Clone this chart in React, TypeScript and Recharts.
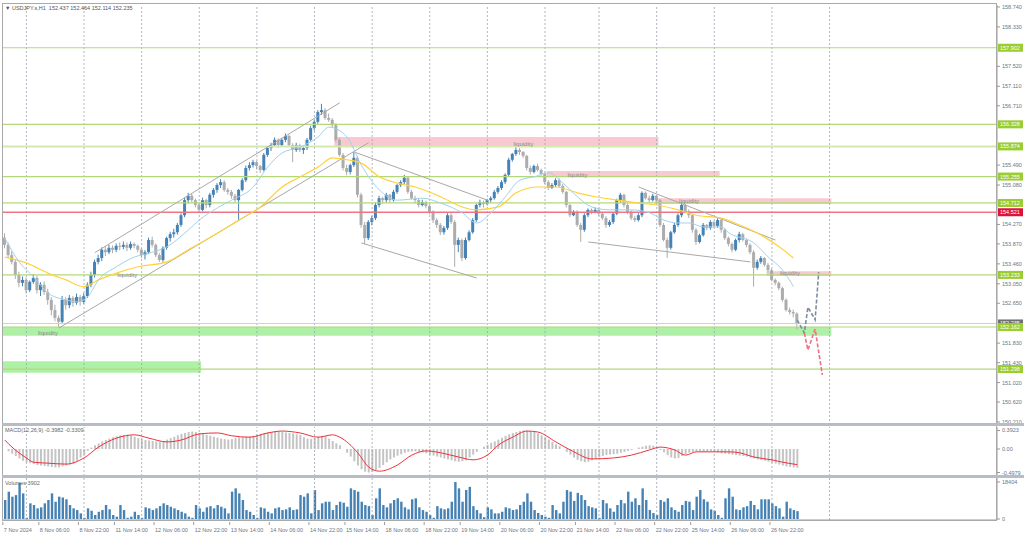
import React from 'react';
import { ComposedChart, Bar, Line, XAxis, YAxis, ReferenceLine, ReferenceArea, ReferenceDot } from 'recharts';

// hourly candles [open, high, low, close]
const candles7to8Nov = [
  [154.0, 154.09, 153.78, 153.85], [153.85, 153.9, 153.58, 153.64], [153.64, 153.72, 153.45, 153.5], [153.5, 153.55, 153.15, 153.23],
  [153.23, 153.3, 152.98, 153.07], [153.07, 153.2, 153.0, 153.13], [153.13, 153.18, 152.85, 152.92], [152.92, 153.12, 152.88, 153.09],
  [153.09, 153.25, 153.05, 153.17], [153.17, 153.22, 152.85, 152.92], [152.92, 153.08, 152.8, 153.03], [153.03, 153.1, 152.82, 152.88],
  [152.88, 152.95, 152.62, 152.72], [152.72, 152.78, 152.4, 152.51], [152.51, 152.62, 152.28, 152.35], [152.35, 152.4, 152.16, 152.27],
  [152.27, 152.8, 152.24, 152.72], [152.72, 152.78, 152.52, 152.61], [152.61, 152.82, 152.55, 152.76], [152.76, 152.8, 152.58, 152.66],
  [152.66, 152.85, 152.62, 152.78], [152.78, 152.82, 152.6, 152.68], [152.68, 152.86, 152.64, 152.8], [152.8, 153.08, 152.76, 153.03],
  [153.03, 153.3, 152.98, 153.23],
];
const candles11to12Nov = [
  [153.23, 153.55, 153.18, 153.5], [153.5, 153.65, 153.45, 153.58], [153.58, 153.8, 153.52, 153.75], [153.75, 153.82, 153.62, 153.7],
  [153.7, 153.85, 153.66, 153.79], [153.79, 153.84, 153.68, 153.75], [153.75, 153.88, 153.7, 153.83], [153.83, 153.9, 153.74, 153.81],
  [153.81, 153.92, 153.76, 153.85], [153.85, 153.9, 153.72, 153.79], [153.79, 153.92, 153.75, 153.87], [153.87, 153.9, 153.78, 153.83],
  [153.83, 153.86, 153.7, 153.75], [153.75, 153.78, 153.58, 153.64], [153.64, 153.74, 153.55, 153.7], [153.7, 154.0, 153.66, 153.95],
  [153.95, 154.02, 153.8, 153.85], [153.85, 153.88, 153.6, 153.64], [153.64, 153.68, 153.5, 153.54], [153.54, 153.82, 153.5, 153.79],
  [153.79, 154.02, 153.75, 153.99], [153.99, 154.12, 153.92, 154.07], [154.07, 154.18, 154.0, 154.11], [154.11, 154.3, 154.06, 154.26],
  [154.26, 154.5, 154.22, 154.46], [154.46, 154.82, 154.42, 154.77], [154.77, 154.92, 154.7, 154.86], [154.86, 154.9, 154.72, 154.77],
  [154.77, 154.8, 154.62, 154.67], [154.67, 154.72, 154.52, 154.57], [154.57, 154.82, 154.54, 154.77],
];
const candles12to14Nov = [
  [154.77, 154.8, 154.6, 154.67], [154.67, 154.92, 154.62, 154.88], [154.88, 155.02, 154.82, 154.98], [154.98, 155.12, 154.92, 155.08],
  [155.08, 155.2, 155.02, 155.14], [155.14, 155.18, 154.94, 154.98], [154.98, 155.02, 154.88, 154.94], [154.94, 154.98, 154.8, 154.86],
  [154.86, 154.9, 154.72, 154.77], [154.77, 155.0, 154.36, 154.98], [154.98, 155.22, 154.95, 155.18], [155.18, 155.48, 155.14, 155.43],
  [155.43, 155.55, 155.38, 155.49], [155.49, 155.6, 155.44, 155.55], [155.55, 155.58, 155.4, 155.47], [155.47, 155.5, 155.33, 155.39],
  [155.39, 155.74, 155.36, 155.7], [155.7, 155.88, 155.66, 155.84], [155.84, 155.95, 155.78, 155.9], [155.9, 156.06, 155.86, 156.01],
  [156.01, 156.04, 155.84, 155.9], [155.9, 156.05, 155.86, 156.01], [156.01, 156.14, 155.96, 156.09], [156.09, 156.12, 155.86, 155.9],
  [155.9, 155.94, 155.55, 155.8], [155.8, 155.95, 155.76, 155.9], [155.9, 155.93, 155.76, 155.8], [155.8, 155.88, 155.72, 155.84],
  [155.84, 156.05, 155.8, 156.01], [156.01, 156.3, 155.98, 156.25], [156.25, 156.42, 156.2, 156.38], [156.38, 156.62, 156.34, 156.58],
  [156.58, 156.75, 156.52, 156.62],
];
const candles15to18Nov = [
  [156.62, 156.66, 156.42, 156.46], [156.46, 156.55, 156.38, 156.42], [156.42, 156.46, 156.26, 156.31], [156.31, 156.35, 155.96, 156.01],
  [156.01, 156.05, 155.66, 155.7], [155.7, 155.74, 155.38, 155.43], [155.43, 155.5, 155.28, 155.35], [155.35, 155.52, 155.3, 155.49],
  [155.49, 155.76, 155.45, 155.64], [155.64, 155.68, 154.82, 154.88], [154.88, 154.92, 154.2, 154.26], [154.26, 154.32, 153.87, 153.99],
  [153.99, 154.36, 153.95, 154.32], [154.32, 154.45, 154.25, 154.4], [154.4, 154.72, 154.36, 154.67], [154.67, 154.86, 154.62, 154.81],
  [154.81, 154.84, 154.7, 154.77], [154.77, 154.92, 154.72, 154.88], [154.88, 154.9, 154.72, 154.77], [154.77, 154.98, 154.74, 154.94],
  [154.94, 155.1, 154.9, 155.08], [155.08, 155.18, 155.04, 155.14], [155.14, 155.29, 155.1, 155.23], [155.23, 155.26, 154.9, 154.94],
  [154.94, 154.98, 154.78, 154.81], [154.81, 154.86, 154.7, 154.77], [154.77, 154.8, 154.62, 154.67], [154.67, 154.78, 154.64, 154.73],
  [154.73, 154.76, 154.6, 154.65], [154.65, 154.68, 154.48, 154.53], [154.53, 154.56, 154.3, 154.36], [154.36, 154.4, 154.2, 154.26],
  [154.26, 154.3, 154.05, 154.11], [154.11, 154.24, 154.06, 154.2], [154.2, 154.5, 154.16, 154.46], [154.46, 154.5, 154.28, 154.32],
];
const candles19to21Nov = [
  [154.32, 154.36, 153.4, 153.85], [153.85, 154.0, 153.7, 153.95], [153.95, 153.98, 153.52, 153.58], [153.58, 154.0, 153.55, 153.95],
  [153.95, 154.15, 153.92, 154.11], [154.11, 154.4, 154.08, 154.36], [154.36, 154.7, 154.32, 154.67], [154.67, 154.78, 154.62, 154.73],
  [154.73, 154.76, 154.62, 154.69], [154.69, 154.8, 154.66, 154.77], [154.77, 154.85, 154.72, 154.81], [154.81, 154.98, 154.78, 154.94],
  [154.94, 155.06, 154.9, 155.02], [155.02, 155.18, 154.98, 155.14], [155.14, 155.32, 155.1, 155.29], [155.29, 155.64, 155.26, 155.6],
  [155.6, 155.74, 155.56, 155.72], [155.72, 155.86, 155.68, 155.8], [155.8, 155.84, 155.7, 155.76], [155.76, 155.78, 155.64, 155.68],
  [155.68, 155.7, 155.38, 155.43], [155.43, 155.48, 155.3, 155.35], [155.35, 155.5, 155.32, 155.47], [155.47, 155.52, 155.36, 155.39],
  [155.39, 155.42, 155.27, 155.31], [155.31, 155.34, 155.1, 155.14], [155.14, 155.18, 154.98, 155.02], [155.02, 155.12, 155.0, 155.08],
  [155.08, 155.22, 155.04, 155.18], [155.18, 155.22, 155.02, 155.06], [155.06, 155.1, 154.9, 154.94], [154.94, 154.96, 154.62, 154.67],
  [154.67, 154.7, 154.42, 154.46], [154.46, 154.56, 154.44, 154.53], [154.53, 154.56, 154.22, 154.26], [154.26, 154.3, 153.91, 154.16],
];
const candles21to22Nov = [
  [154.16, 154.5, 154.12, 154.46], [154.46, 154.6, 154.42, 154.57], [154.57, 154.6, 154.48, 154.53], [154.53, 154.62, 154.5, 154.57],
  [154.57, 154.6, 154.44, 154.49], [154.49, 154.52, 154.36, 154.4], [154.4, 154.44, 154.2, 154.26], [154.26, 154.36, 154.22, 154.32],
  [154.32, 154.52, 154.28, 154.49], [154.49, 154.8, 154.46, 154.77], [154.77, 154.92, 154.72, 154.88], [154.88, 154.9, 154.62, 154.67],
  [154.67, 154.7, 154.48, 154.53], [154.53, 154.56, 154.36, 154.4], [154.4, 154.45, 154.32, 154.36], [154.36, 154.5, 154.33, 154.46],
  [154.46, 154.95, 154.42, 154.92], [154.92, 154.95, 154.78, 154.81], [154.81, 154.86, 154.72, 154.77], [154.77, 154.9, 154.74, 154.86],
  [154.86, 154.88, 154.72, 154.77], [154.77, 154.8, 154.22, 154.26], [154.26, 154.3, 153.92, 153.95], [153.95, 154.0, 153.58, 153.79],
  [153.79, 154.14, 153.75, 154.11], [154.11, 154.3, 154.08, 154.26], [154.26, 154.5, 154.22, 154.46], [154.46, 154.73, 154.42, 154.67],
  [154.67, 154.7, 154.5, 154.53], [154.53, 154.58, 154.4, 154.46],
];
const candles25to26Nov = [
  [154.46, 154.48, 154.1, 154.16], [154.16, 154.2, 153.85, 153.91], [153.91, 154.08, 153.88, 154.05], [154.05, 154.3, 154.02, 154.26],
  [154.26, 154.28, 154.15, 154.2], [154.2, 154.36, 154.16, 154.32], [154.32, 154.34, 154.2, 154.24], [154.24, 154.4, 154.2, 154.36],
  [154.36, 154.38, 154.1, 154.16], [154.16, 154.2, 153.95, 153.99], [153.99, 154.02, 153.82, 153.87], [153.87, 153.9, 153.7, 153.75],
  [153.75, 153.98, 153.72, 153.95], [153.95, 154.12, 153.9, 154.07], [154.07, 154.1, 153.92, 153.95], [153.95, 153.98, 153.8, 153.85],
  [153.85, 153.88, 153.66, 153.7], [153.7, 153.74, 152.99, 153.38], [153.38, 153.55, 153.34, 153.5], [153.5, 153.62, 153.46, 153.58],
  [153.58, 153.6, 153.4, 153.44], [153.44, 153.48, 153.28, 153.33], [153.33, 153.36, 153.1, 153.13], [153.13, 153.16, 153.02, 153.07],
  [153.07, 153.1, 152.92, 152.96], [152.96, 152.99, 152.68, 152.72], [152.72, 152.75, 152.48, 152.51], [152.51, 152.56, 152.42, 152.47],
  [152.47, 152.52, 152.36, 152.44], [152.437, 152.464, 152.114, 152.235],
];
const candles = [
  ...candles7to8Nov, ...candles11to12Nov, ...candles12to14Nov, ...candles15to18Nov,
  ...candles19to21Nov, ...candles21to22Nov, ...candles25to26Nov,
];

const volumes = [
  9450, 13600, 11100, 11900, 18000, 12750, 600, 7800, 6950, 5300,
  5800, 7800, 9450, 12750, 8600, 11100, 10700, 9800, 6950, 5300,
  4450, 2800, 600, 5300, 4100, 2000, 3600, 4450, 6950, 4800,
  2000, 1150, 6950, 4450, 600, 1150, 3600, 2000, 600, 5800,
  5300, 4450, 5300, 6400, 7800, 6950, 6100, 5300, 4450, 3600,
  2800, 1150, 600, 6950, 5300, 3600, 5800, 6400, 5300, 6950,
  6100, 5300, 2800, 13600, 15250, 12750, 9450, 4450, 3600, 2000,
  600, 5800, 5300, 3600, 2800, 5300, 5800, 4450, 4800, 5800,
  4450, 4800, 11900, 11100, 12750, 2800, 14400, 4450, 7800, 8600,
  8600, 4450, 6950, 8600, 8100, 6100, 15250, 14400, 13600, 8600,
  6950, 6400, 2000, 10300, 15250, 6950, 5800, 7800, 9450, 10300,
  8600, 5800, 4800, 9800, 10300, 5800, 4450, 3600, 2000, 600,
  6400, 5300, 4800, 5300, 8600, 18404, 15250, 8600, 14400, 16000,
  6400, 4450, 2800, 900, 5800, 4800, 2800, 2800, 3600, 5800,
  5300, 4450, 4800, 6950, 8600, 12750, 8600, 4450, 3000, 2000,
  1150, 600, 6950, 4450, 2800, 8600, 14400, 13600, 9000, 13000,
  11900, 9450, 6400, 5800, 5300, 600, 9450, 7800, 5300, 3600,
  6950, 9450, 7800, 13600, 8600, 10300, 6950, 15250, 9450, 4450,
  3000, 2000, 9450, 8600, 10300, 5800, 4450, 3600, 6950, 9000,
  8600, 4450, 11100, 14400, 9800, 8600, 4800, 4100, 2000, 600,
  10300, 15250, 11100, 4800, 4450, 5800, 6400, 9000, 6950, 4800,
  9800, 9800, 9800, 7800, 6400, 5300, 1150, 8600, 5300, 4450,
  3902,
];

const macdHist = [
  0.0, -0.05, -0.1, -0.15, -0.2, -0.25, -0.28, -0.3, -0.32, -0.34,
  -0.35, -0.36, -0.37, -0.38, -0.39, -0.39, -0.37, -0.35, -0.33, -0.31,
  -0.25, -0.18, -0.12, -0.04, 0.03, 0.08, 0.12, 0.16, 0.19, 0.22,
  0.25, 0.27, 0.29, 0.3, 0.3, 0.28, 0.26, 0.23, 0.21, 0.19,
  0.18, 0.17, 0.16, 0.15, 0.17, 0.2, 0.23, 0.26, 0.29, 0.32,
  0.34, 0.36, 0.37, 0.36, 0.34, 0.32, 0.3, 0.28, 0.26, 0.24,
  0.22, 0.21, 0.2, 0.21, 0.23, 0.24, 0.25, 0.26, 0.27, 0.28,
  0.3, 0.32, 0.34, 0.35, 0.36, 0.37, 0.37, 0.36, 0.35, 0.34,
  0.33, 0.31, 0.3, 0.25, 0.22, 0.21, 0.23, 0.26, 0.28, 0.27,
  0.22, 0.17, 0.12, 0.08, 0.0, -0.08, -0.16, -0.26, -0.35, -0.43,
  -0.48, -0.4979, -0.48, -0.45, -0.4, -0.34, -0.28, -0.22, -0.18, -0.14,
  -0.11, -0.08, -0.06, -0.05, -0.05, -0.06, -0.07, -0.09, -0.12, -0.14,
  -0.16, -0.18, -0.2, -0.22, -0.24, -0.26, -0.27, -0.26, -0.24, -0.18,
  -0.12, -0.06, 0.0, 0.05, 0.09, 0.13, 0.16, 0.2, 0.24, 0.28,
  0.31, 0.34, 0.36, 0.38, 0.3923, 0.39, 0.38, 0.36, 0.33, 0.29,
  0.25, 0.2, 0.15, 0.1, 0.06, 0.0, -0.06, -0.12, -0.18, -0.23,
  -0.26, -0.28, -0.27, -0.24, -0.21, -0.18, -0.15, -0.13, -0.12, -0.11,
  -0.1, -0.08, -0.06, -0.04, -0.02, 0.0, 0.03, 0.05, 0.07, 0.08,
  0.07, 0.03, -0.02, -0.07, -0.13, -0.18, -0.2, -0.19, -0.15, -0.11,
  -0.08, -0.06, -0.05, -0.05, -0.06, -0.06, -0.05, -0.06, -0.07, -0.09,
  -0.1, -0.11, -0.12, -0.13, -0.14, -0.15, -0.16, -0.18, -0.2, -0.22,
  -0.23, -0.25, -0.27, -0.29, -0.31, -0.33, -0.35, -0.37, -0.38, -0.39,
  -0.3982,
];

// [bar, value]
const macdSignal = [
  [0, 0.19], [2, 0.04], [6, -0.19], [8, -0.28], [12, -0.3], [17, -0.32], [22, -0.19], [26, 0.04], [31, 0.23],
  [36, 0.3], [40, 0.23], [45, 0.15], [49, 0.19], [54, 0.32], [59, 0.34], [63, 0.28], [68, 0.25], [73, 0.34],
  [77, 0.38], [82, 0.34], [87, 0.25], [91, 0.3], [93, 0.25], [98, -0.08], [101, -0.38], [104, -0.47], [109, -0.34],
  [113, -0.13], [117, -0.04], [121, -0.08], [126, -0.17], [130, -0.23], [134, -0.13], [137, 0.08], [141, 0.25],
  [145, 0.38], [148, 0.36], [153, 0.15], [158, -0.06], [163, -0.21], [169, -0.19], [174, -0.13], [179, -0.02],
  [182, 0.04], [186, -0.02], [189, -0.13], [192, -0.06], [195, -0.06], [201, -0.06], [204, -0.08], [208, -0.17],
  [213, -0.23], [216, -0.28], [220, -0.3309],
];

const maFast = [
  [0, 153.99], [4, 153.5], [8, 153.19], [12, 152.86], [17, 152.72], [20, 152.68], [23, 152.78], [26, 153.13],
  [31, 153.4], [36, 153.6], [40, 153.68], [45, 153.81], [51, 154.16], [54, 154.36], [59, 154.61], [63, 154.77],
  [69, 155.04], [73, 155.45], [77, 155.74], [82, 155.86], [87, 156.07], [90, 156.27], [95, 156.07], [99, 155.49],
  [104, 154.98], [109, 154.77], [116, 154.81], [121, 154.71], [127, 154.51], [131, 154.3], [135, 154.51],
  [139, 154.84], [143, 155.18], [147, 155.25], [151, 155.33], [155, 155.12], [159, 154.84], [163, 154.63],
  [168, 154.57], [174, 154.57], [179, 154.51], [183, 154.36], [187, 154.3], [190, 154.3], [194, 154.22],
  [199, 154.22], [201, 154.1], [208, 153.89], [212, 153.6], [216, 153.33], [219, 152.99],
];
const maSlow = [
  [0, 153.6], [6, 153.48], [12, 153.27], [17, 153.13], [22, 152.99], [26, 153.13], [31, 153.27], [37, 153.4],
  [45, 153.5], [51, 153.75], [59, 154.09], [65, 154.36], [71, 154.63], [77, 155.04], [82, 155.25], [87, 155.45],
  [91, 155.64], [95, 155.6], [99, 155.53], [104, 155.25], [109, 155.12], [114, 155.04], [121, 154.84],
  [127, 154.63], [131, 154.57], [137, 154.63], [142, 154.92], [148, 155.04], [153, 155.04], [159, 154.92],
  [164, 154.84], [170, 154.77], [176, 154.71], [181, 154.67], [187, 154.57], [192, 154.46], [199, 154.4],
  [204, 154.26], [211, 154.01], [215, 153.81], [219, 153.58],
];

const forecastUp = [[220, 152.31], [222, 152.04], [223, 152.57], [225, 152.31], [226, 153.29]];
const forecastDown = [[222, 152.04], [223, 151.69], [225, 152.12], [227, 151.18]];

// [bar1, price1, bar2, price2]
const trendLines = [
  [25, 153.69, 93, 156.77], [15, 152.14, 101, 155.95], [97, 155.76, 134, 154.77],
  [99, 153.89, 131, 153.17], [176, 155.04, 214, 153.95], [162, 153.91, 207, 153.5],
];

// [bar1, bar2, top, bottom]
const pinkZones = [[92, 181, 156.07, 155.86], [151, 198, 155.37, 155.25], [181, 229, 154.81, 154.69], [212, 229, 153.31, 153.21]];
const greenZones = [[0, 229, 152.16, 151.98], [0, 54, 151.46, 151.22]];

const liquidityNotes = [[34, 153.23], [12, 152.04], [144, 155.92], [159, 155.29], [190, 154.75], [218, 153.27]];

const levels = [157.902, 156.328, 155.874, 155.255, 154.712, 153.233, 152.162, 151.298];
const redLevel = 154.521;
const lastPrice = 152.235;

const priceTicks = [158.74, 158.33, 157.52, 157.11, 156.71, 155.49, 155.08, 154.27, 153.87, 153.46, 153.05, 152.65, 151.83, 151.43, 151.02, 150.62, 150.21];

const timeLabels = [
  '7 Nov 2024', '8 Nov 06:00', '8 Nov 22:00', '11 Nov 14:00', '12 Nov 06:00', '12 Nov 22:00', '13 Nov 14:00',
  '14 Nov 06:00', '14 Nov 22:00', '15 Nov 14:00', '18 Nov 06:00', '18 Nov 22:00', '19 Nov 14:00', '20 Nov 06:00',
  '20 Nov 22:00', '21 Nov 14:00', '22 Nov 06:00', '22 Nov 22:00', '25 Nov 14:00', '26 Nov 06:00', '26 Nov 22:00',
];
const timeLabelBars = [0, 10, 21, 31, 42, 53, 63, 74, 85, 95, 106, 117, 127, 138, 149, 159, 170, 181, 191, 202, 213];
const gridBars = [6, 22, 38, 54, 70, 86, 102, 118, 134, 150, 165, 181, 197, 213, 229];

const TOTAL_BARS = 276;
const W = 1024;
const FONT = '"Liberation Sans", Arial, sans-serif';
const AXIS_TEXT = '#6a7585';
const GRID = '#9aa4b4';

const toMap = (pts: number[][]) => new Map(pts.map((p) => [p[0], p[1]]));
const sigMap = toMap(macdSignal);
const fastMap = toMap(maFast);
const slowMap = toMap(maSlow);
const upMap = toMap(forecastUp);
const downMap = toMap(forecastDown);

const rows = Array.from({ length: TOTAL_BARS }, (_, i) => {
  const c = candles[i];
  return {
    i,
    o: c ? c[0] : null,
    h: c ? c[1] : null,
    l: c ? c[2] : null,
    cl: c ? c[3] : null,
    range: c ? [c[2], c[1]] : null,
    vol: volumes[i] ?? null,
    macd: macdHist[i] ?? null,
    sig: sigMap.get(i) ?? null,
    fast: fastMap.get(i) ?? null,
    slow: slowMap.get(i) ?? null,
    fUp: upMap.get(i) ?? null,
    fDown: downMap.get(i) ?? null,
  };
});

const Candle = (props: any) => {
  const { x, y, width, height, payload } = props;
  if (!payload || payload.o == null) return null;
  const { o, h, l, cl } = payload;
  const top = Math.min(y, y + height);
  const full = Math.abs(height);
  const k = full / (h - l);
  const bodyTop = top + (h - Math.max(o, cl)) * k;
  const bodyH = Math.max(1, Math.abs(o - cl) * k);
  const color = cl >= o ? '#4682b4' : '#acacac';
  const cx = x + width / 2;
  return (
    <g>
      <line x1={cx} x2={cx} y1={top} y2={top + full} stroke={color} strokeWidth={1} />
      <rect x={x} y={bodyTop} width={width} height={bodyH} fill={color} />
    </g>
  );
};

const tagColor = (v: number) => {
  if (v === redLevel) return '#dc143c';
  if (v === lastPrice) return '#707070';
  if (levels.includes(v)) return '#9acd32';
  return null;
};

const PriceTick = (props: any) => {
  const { y, payload } = props;
  const v = payload.value;
  const bg = tagColor(v);
  if (bg) {
    return (
      <g>
        <rect x={998} y={y - 4} width={25} height={8} fill={bg} />
        <text x={1000} y={y + 2} fontSize={5.5} fill="#fff" fontFamily={FONT}>{v.toFixed(3)}</text>
      </g>
    );
  }
  return (
    <g>
      <line x1={997} x2={1000} y1={y} y2={y} stroke="#9a9a9a" />
      <text x={1002} y={y + 2} fontSize={5.5} fill={AXIS_TEXT} fontFamily={FONT}>{v.toFixed(3)}</text>
    </g>
  );
};

const SmallTick = (labels: Record<string, string>) => (props: any) => {
  const { y, payload } = props;
  return (
    <g>
      <line x1={997} x2={1000} y1={y} y2={y} stroke="#9a9a9a" />
      <text x={1002} y={y + 2} fontSize={5.5} fill={AXIS_TEXT} fontFamily={FONT}>{labels[String(payload.value)]}</text>
    </g>
  );
};

const TimeTick = (props: any) => {
  const { x, y, payload } = props;
  const idx = timeLabelBars.indexOf(payload.value);
  return (
    <g>
      <line x1={x - 2} x2={x - 2} y1={y - 6} y2={y - 3} stroke="#9a9a9a" />
      <text x={x - 1} y={y + 4} fontSize={5.5} fill={AXIS_TEXT} fontFamily={FONT}>{timeLabels[idx]}</text>
    </g>
  );
};

const gridLines = () =>
  gridBars.map((b) => <ReferenceLine key={'g' + b} x={b} stroke={GRID} strokeDasharray="2 2" strokeWidth={0.8} />);

const App = () => {
  return (
    <div style={{ position: 'fixed', left: 0, top: 0, width: W, height: 537, background: '#fff', fontFamily: FONT }}>
      {/* price panel */}
      <div style={{ position: 'absolute', left: 0, top: 0 }}>
        <ComposedChart width={W} height={426} data={rows} margin={{ top: 5, right: 0, bottom: 1, left: 3 }}>
          <XAxis dataKey="i" hide />
          <YAxis
            orientation="right"
            width={27}
            type="number"
            domain={[150.148, 158.781]}
            ticks={[...priceTicks, ...levels.slice(0, 4), redLevel, levels[4], levels[5], lastPrice, levels[6], levels[7]]}
            interval={0}
            tick={(p: any) => <PriceTick {...p} />}
            tickLine={false}
            axisLine={{ stroke: '#9a9a9a' }}
            allowDataOverflow
          />
          {gridLines()}
          {greenZones.map((z, k) => (
            <ReferenceArea key={'gz' + k} x1={z[0]} x2={z[1]} y1={z[3]} y2={z[2]} fill="#aef0a6" fillOpacity={1} stroke="none" />
          ))}
          {pinkZones.map((z, k) => (
            <ReferenceArea key={'pz' + k} x1={z[0]} x2={z[1]} y1={z[3]} y2={z[2]} fill="#f9c9d2" fillOpacity={1} stroke="none" />
          ))}
          {levels.map((v) => (
            <ReferenceLine key={'lv' + v} y={v} stroke={v === 155.874 ? '#d3e9ad' : '#b3d87a'} strokeWidth={v === 155.874 ? 2 : 1.2} />
          ))}
          <ReferenceLine y={redLevel} stroke="#ef7585" strokeWidth={1.5} />
          <ReferenceLine y={lastPrice} stroke="#d0d0d0" strokeWidth={1} />
          {trendLines.map((t, k) => (
            <ReferenceLine key={'tl' + k} segment={[{ x: t[0], y: t[1] }, { x: t[2], y: t[3] }]} stroke="#a8a8a8" strokeWidth={1} />
          ))}
          <Line dataKey="slow" stroke="#ffd23c" strokeWidth={1.2} dot={false} connectNulls type="monotone" isAnimationActive={false} />
          <Line dataKey="fast" stroke="#9fd2ee" strokeWidth={1} dot={false} connectNulls type="monotone" isAnimationActive={false} />
          <Bar dataKey="range" barSize={3} shape={(p: any) => <Candle {...p} />} isAnimationActive={false} />
          <Line dataKey="fUp" stroke="#7d8ba3" strokeWidth={1.6} strokeDasharray="4 2" dot={false} connectNulls type="linear" isAnimationActive={false} />
          <Line dataKey="fDown" stroke="#f07080" strokeWidth={1.6} strokeDasharray="4 2" dot={false} connectNulls type="linear" isAnimationActive={false} />
          {liquidityNotes.map((n, k) => (
            <ReferenceDot
              key={'lq' + k}
              x={n[0]}
              y={n[1]}
              r={0}
              stroke="none"
              label={{ value: 'liquidity', position: 'center', fill: '#8a8a8a', fontSize: 6, fontFamily: FONT }}
            />
          ))}
        </ComposedChart>
      </div>

      {/* MACD panel */}
      <div style={{ position: 'absolute', left: 0, top: 426 }}>
        <ComposedChart width={W} height={51} data={rows} margin={{ top: 1, right: 0, bottom: 1, left: 3 }}>
          <XAxis dataKey="i" hide />
          <YAxis
            orientation="right"
            width={27}
            type="number"
            domain={[-0.572, 0.466]}
            ticks={[0.3923, 0, -0.4979]}
            interval={0}
            tick={SmallTick({ '0.3923': '0.3923', '0': '0.00', '-0.4979': '-0.4979' })}
            tickLine={false}
            axisLine={{ stroke: '#9a9a9a' }}
            allowDataOverflow
          />
          {gridLines()}
          <Bar dataKey="macd" fill="#c4c4c4" barSize={2} isAnimationActive={false} />
          <Line dataKey="sig" stroke="#f0303a" strokeWidth={1} dot={false} connectNulls type="monotone" isAnimationActive={false} />
        </ComposedChart>
      </div>

      {/* volume panel */}
      <div style={{ position: 'absolute', left: 0, top: 477 }}>
        <ComposedChart width={W} height={57} data={rows} margin={{ top: 1, right: 0, bottom: 0, left: 3 }}>
          <XAxis
            dataKey="i"
            height={14}
            ticks={timeLabelBars}
            interval={0}
            tick={(p: any) => <TimeTick {...p} />}
            tickLine={false}
            axisLine={{ stroke: '#9a9a9a' }}
          />
          <YAxis
            orientation="right"
            width={27}
            type="number"
            domain={[-500, 20400]}
            ticks={[18404, 0]}
            interval={0}
            tick={SmallTick({ '18404': '18404', '0': '0' })}
            tickLine={false}
            axisLine={{ stroke: '#9a9a9a' }}
            allowDataOverflow
          />
          {gridLines()}
          <Bar dataKey="vol" fill="#4682b4" barSize={2.4} isAnimationActive={false} />
        </ComposedChart>
      </div>

      {/* frame and panel separators */}
      <div style={{ position: 'absolute', left: 2, top: 3, width: 995, height: 518, border: '1px solid #a9a9a9', boxSizing: 'border-box', pointerEvents: 'none' }} />
      <div style={{ position: 'absolute', left: 2, top: 423, width: 1022, height: 3, background: '#b8bcc4' }} />
      <div style={{ position: 'absolute', left: 2, top: 475, width: 1022, height: 3, background: '#b8bcc4' }} />

      {/* texts */}
      <div style={{ position: 'absolute', left: 5, top: 5, fontSize: 5.5, color: '#555', whiteSpace: 'pre' }}>
        {'▼ USDJPY.s,H1  152.437 152.464 152.114 152.235'}
      </div>
      <div style={{ position: 'absolute', left: 5, top: 427, fontSize: 5.5, color: '#666', whiteSpace: 'pre' }}>
        {'MACD(12,26,9) -0.3982 -0.3309'}
      </div>
      <div style={{ position: 'absolute', left: 5, top: 480, fontSize: 5.5, color: '#666', whiteSpace: 'pre' }}>
        {'Volumes 3902'}
      </div>
    </div>
  );
};

export default App;
